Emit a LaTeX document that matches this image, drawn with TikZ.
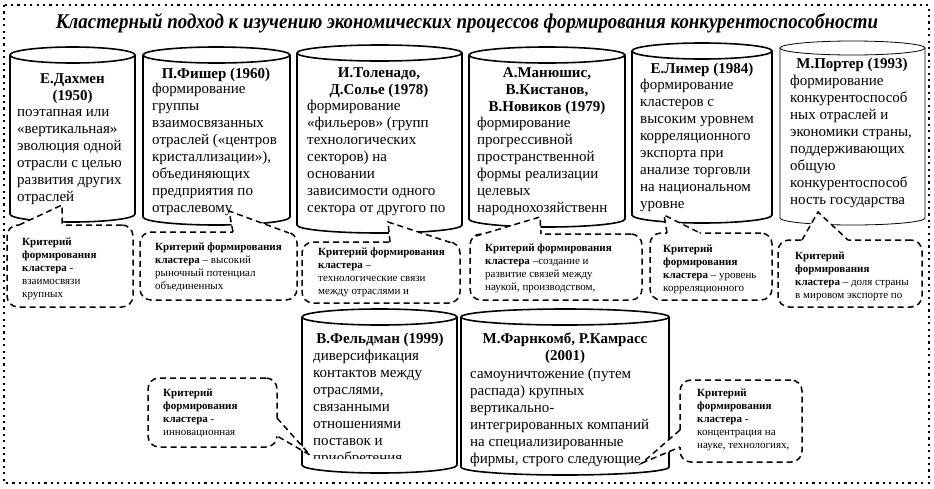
\documentclass[tikz,border=0pt]{standalone}
\usepackage{fontspec}
\setmainfont{Liberation Serif}
\usetikzlibrary{calc}
\newcommand\drawcyl[7]{%
 \pgfmathsetmacro\cylcx{(#2+#3)/2}%
 \pgfmathsetmacro\cylrx{(#3-#2)/2}%
 \draw[#7] (\cylcx,#4+#6) ellipse [x radius=\cylrx pt, y radius=#6 pt];%
 \draw[#7] (#2,#4+#6) -- (#2,#5-#6) arc [start angle=180, end angle=360, x radius=\cylrx pt, y radius=#6 pt] -- (#3,#4+#6);%
 \coordinate (#1) at (\cylcx,#5-#6);%
}
\newcommand\callptr[4]{%
 \fill[white] ($(#1)+(#4)$) -- (#1) -- (#2) -- (#3) -- ($(#3)+(#4)$) -- cycle;%
 \draw[callline] (#1) -- (#2) -- (#3);%
}
\newcommand\bigfirst{\rule{0pt}{11pt}}
\newcommand\smallfirst{\rule{0pt}{8pt}}
\begin{document}
\begin{tikzpicture}[x=1pt,y=-1pt,
  frameline/.style={line width=2pt, dash pattern=on 2.2pt off 4.2pt},
  cylthick/.style={line width=1.6pt},
  cylthin/.style={line width=0.8pt},
  callline/.style={line width=1.5pt, dash pattern=on 6pt off 4pt},
  callbox/.style={callline, draw, fill=white, rounded corners=11pt, rectangle, inner sep=0pt},
  titletxt/.style={font=\bfseries\itshape\fontsize{21}{23}\selectfont, inner sep=0pt, anchor=base},
  nametxt/.style={font=\bfseries\fontsize{15}{17.1}\selectfont, align=center, inner sep=0pt, anchor=north},
  bodytxt/.style={font=\fontsize{15}{17.1}\selectfont, align=left, inner sep=0pt, anchor=north west},
  calltxt/.style={font=\fontsize{11}{13}\selectfont, align=left, inner sep=0pt, anchor=north west}
]
\useasboundingbox (0,0) rectangle (934,488);
\draw[frameline] (4,5) rectangle (929,483);
\node[titletxt] (title) at (467,28) {\scalebox{0.9}[1]{Кластерный подход к изучению экономических процессов формирования конкурентоспособности}};

% cylinders
\drawcyl{k1}{10}{135}{47}{222}{8}{cylthick}
\drawcyl{k2}{143}{290}{47}{225}{8}{cylthick}
\drawcyl{k3}{297}{462}{45}{233}{8}{cylthick}
\drawcyl{k4}{469}{625}{47}{227}{8}{cylthick}
\drawcyl{k5}{632}{772}{43}{223}{8}{cylthick}
\drawcyl{k6}{780}{925}{41}{225}{7}{cylthin}
\drawcyl{k7}{302}{457}{309}{473}{8}{cylthick}
\drawcyl{k8}{461}{669}{309}{475}{8}{cylthick}

% cylinder texts
\node[nametxt] (n1) at (72.5,72) {\bigfirst Е.Дахмен\\(1950)};
\node[bodytxt] (b1) at (17,105) {\bigfirst поэтапная  или\\«вертикальная»\\эволюция одной\\отрасли с целью\\развития других\\отраслей};
\node[nametxt] (n2) at (216,67) {\bigfirst П.Фишер (1960)};
\node[bodytxt] (b2) at (152,82) {\bigfirst формирование\\группы\\взаимосвязанных\\отраслей («центров\\кристаллизации»),\\объединяющих\\предприятия по\\отраслевому};
\node[nametxt] (n3) at (379,66) {\bigfirst И.Толенадо,\\Д.Солье (1978)};
\node[bodytxt] (b3) at (307,99) {\bigfirst формирование\\«фильеров» (групп\\технологических\\секторов) на\\основании\\зависимости одного\\сектора от другого по};
\node[nametxt] (n4) at (547,66) {\bigfirst А.Манюшис,\\В.Кистанов,\\В.Новиков (1979)};
\node[bodytxt] (b4) at (477,116) {\bigfirst формирование\\прогрессивной\\пространственной\\формы реализации\\целевых\\народнохозяйственн};
\node[nametxt] (n5) at (702,62) {\bigfirst Е.Лимер (1984)};
\node[bodytxt] (b5) at (640,78) {\bigfirst формирование\\кластеров с\\высоким уровнем\\корреляционного\\экспорта при\\анализе торговли\\на национальном\\уровне};
\node[nametxt] (n6) at (852,57) {\bigfirst М.Портер (1993)};
\node[bodytxt] (b6) at (790,74) {\bigfirst формирование\\конкурентоспособ\\ных отраслей и\\экономики страны,\\поддерживающих\\общую\\конкурентоспособ\\ность государства};
\node[nametxt] (n7) at (380,332) {\bigfirst В.Фельдман (1999)};
\begin{scope}
\clip (302,340) rectangle (457,458);
\node[bodytxt] (b7) at (313,349) {\bigfirst диверсификация\\контактов между\\отраслями,\\связанными\\отношениями\\поставок и\\приобретения};
\end{scope}
\node[nametxt] (n8) at (565,332) {\bigfirst М.Фарнкомб, Р.Камрасс\\(2001)};
\node[bodytxt] (b8) at (470,367) {\bigfirst самоуничтожение (путем\\распада) крупных\\вертикально-\\интегрированных компаний\\на специализированные\\фирмы, строго следующие};

% pointer tips and bases
\coordinate (t1) at (62,205);  \coordinate (a1) at (19,225);  \coordinate (e1) at (62,225);
\coordinate (t2) at (229,211); \coordinate (a2) at (233,232); \coordinate (e2) at (289,233);
\coordinate (t3) at (388,222); \coordinate (a3) at (390,242); \coordinate (e3) at (452,243);
\coordinate (t4) at (540,217); \coordinate (a4) at (476,236); \coordinate (e4) at (541,234);
\coordinate (t5) at (664,215); \coordinate (a5) at (667,233); \coordinate (e5) at (700,233);
\coordinate (t6) at (818,212); \coordinate (a6) at (802,240); \coordinate (e6) at (848,240);
\coordinate (t7) at (310,455); \coordinate (a7) at (277,418); \coordinate (e7) at (277,436);
\coordinate (t8) at (642,463); \coordinate (a8) at (680,430); \coordinate (e8) at (680,447);

% callouts
\node[callbox, minimum width=126pt, minimum height=82pt] (c1) at (70,266) {};
\callptr{a1}{t1}{e1}{0,3}
\node[calltxt] (ct1) at (22,237) {\smallfirst\textbf{Критерий}\\\textbf{формирования}\\\textbf{кластера} -\\взаимосвязи\\крупных};

\node[callbox, minimum width=157pt, minimum height=68pt] (c2) at (218.5,266) {};
\callptr{a2}{t2}{e2}{0,3}
\node[calltxt] (ct2) at (155,242) {\smallfirst\textbf{Критерий формирования}\\\textbf{кластера} – высокий\\рыночный потенциал\\объединенных};

\node[callbox, minimum width=158pt, minimum height=61pt] (c3) at (381,272.5) {};
\callptr{a3}{t3}{e3}{0,3}
\node[calltxt] (ct3) at (318,247) {\smallfirst\textbf{Критерий формирования}\\\textbf{кластера} –\\технологические связи\\между отраслями и};

\node[callbox, minimum width=172pt, minimum height=66pt] (c4) at (556,267) {};
\callptr{a4}{t4}{e4}{0,3}
\node[calltxt] (ct4) at (485,243) {\smallfirst\textbf{Критерий формирования}\\\textbf{кластера} –создание и\\развитие связей между\\наукой, производством,};

\node[callbox, minimum width=122pt, minimum height=67pt] (c5) at (711,266.5) {};
\callptr{a5}{t5}{e5}{0,3}
\node[calltxt] (ct5) at (663,244) {\smallfirst\textbf{Критерий}\\\textbf{формирования}\\\textbf{кластера} – уровень\\корреляционного};

\node[callbox, minimum width=144pt, minimum height=67pt] (c6) at (850,273.5) {};
\callptr{a6}{t6}{e6}{0,3}
\node[calltxt] (ct6) at (795,251) {\smallfirst\textbf{Критерий}\\\textbf{формирования}\\\textbf{кластера} – доля страны\\в мировом экспорте по};

\node[callbox, minimum width=129pt, minimum height=69pt] (c7) at (212.5,412.5) {};
\callptr{a7}{t7}{e7}{-3,0}
\node[calltxt] (ct7) at (163,388) {\smallfirst\textbf{Критерий}\\\textbf{формирования}\\\textbf{кластера} -\\инновационная};

\node[callbox, minimum width=122pt, minimum height=82pt] (c8) at (741,421) {};
\callptr{a8}{t8}{e8}{3,0}
\node[calltxt] (ct8) at (697,388) {\smallfirst\textbf{Критерий}\\\textbf{формирования}\\\textbf{кластера} -\\концентрация на\\науке, технологиях,};
\end{tikzpicture}
\end{document}
